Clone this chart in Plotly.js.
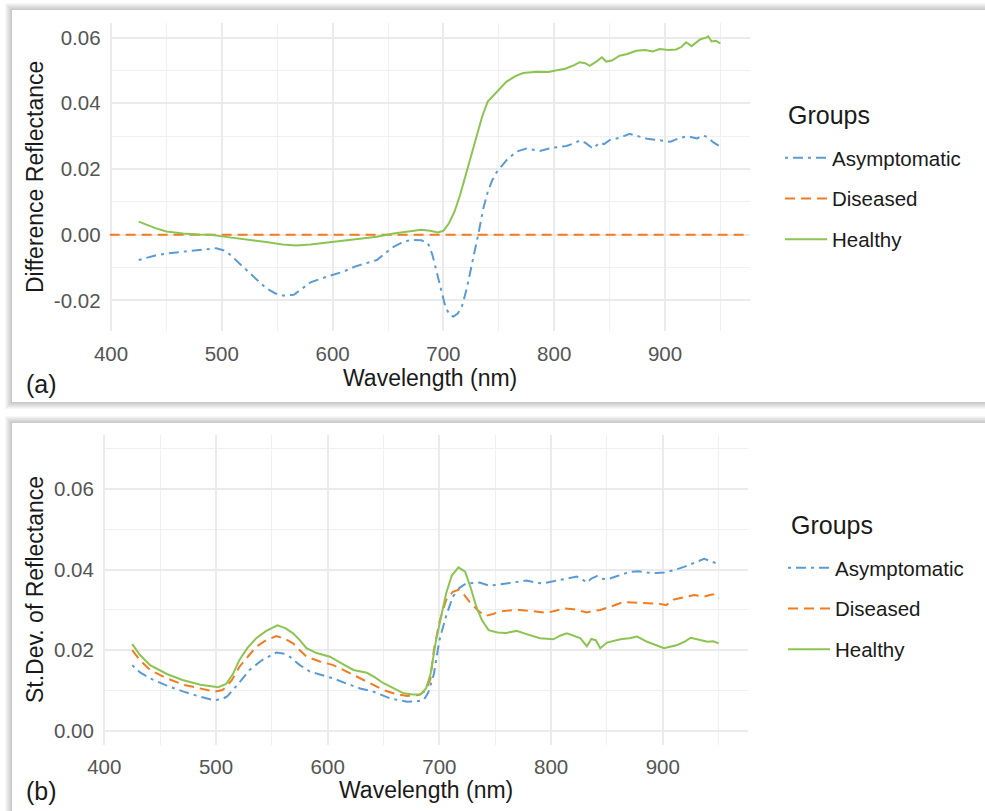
<!DOCTYPE html>
<html>
<head>
<meta charset="utf-8">
<script src="https://cdn.plot.ly/plotly-3.0.1.min.js"></script>
<style>html,body{margin:0;padding:0;background:#fff;}#chart{width:985px;height:811px;}</style>
</head>
<body>
<div id="chart"></div>
<script>
// ---------- DATA ----------
const groups = ["Asymptomatic", "Diseased", "Healthy"];
const legendTitle = "Groups";
const xTicks = [400, 500, 600, 700, 800, 900];
const xMinorTicks = [450, 550, 650, 750, 850, 950];
const yTicksA = [-0.02, 0, 0.02, 0.04, 0.06];
const yMinorA = [-0.01, 0.01, 0.03, 0.05];
const yTicksB = [0, 0.02, 0.04, 0.06];
const yMinorB = [0.01, 0.03, 0.05, 0.07];
const xTitle = "Wavelength (nm)";
const yTitleA = "Difference Reflectance";
const yTitleB = "St.Dev. of Reflectance";
const panelLabels = ["(a)", "(b)"];

// Panel (a): difference of reflectance vs. Diseased
const wlA_Asym = [425,440,450,470,485,495,504,512,522,532,540,548,555,565,572,580,590,600,610,620,631,640,648,655,662,670,680,686,690,694,698,702,706,709,713,717,721,725,729,732,736,740,744,748,757,766,775,787,799,811,818,823,828,835,841,845,850,860,868,876,884,892,898,905,912,920,925,929,934,938,944,950];
const diffA_Asym = [-0.0077,-0.0063,-0.0057,-0.0050,-0.0044,-0.0041,-0.0050,-0.0075,-0.0107,-0.0140,-0.0163,-0.0178,-0.0185,-0.0183,-0.0165,-0.0145,-0.0133,-0.0123,-0.0112,-0.0097,-0.0087,-0.0077,-0.0055,-0.0037,-0.0025,-0.0016,-0.0017,-0.0025,-0.0060,-0.0115,-0.0175,-0.0222,-0.0245,-0.0249,-0.0240,-0.0215,-0.0165,-0.0105,-0.0040,0.0010,0.0080,0.0130,0.0165,0.0190,0.0227,0.0253,0.0262,0.0255,0.0265,0.0270,0.0278,0.0287,0.0280,0.0262,0.0280,0.0276,0.0288,0.0296,0.0307,0.0300,0.0292,0.0289,0.0286,0.0283,0.0293,0.0300,0.0296,0.0293,0.0302,0.0298,0.0280,0.0268];
const wlA_Dis = [398.75, 976.25];
const diffA_Dis = [0, 0];
const wlA_Heal = [425,440,450,465,480,490,500,520,540,555,567,580,600,620,640,655,670,680,688,695,700,705,710,715,720,725,730,735,740,748,757,765,772,784,795,800,810,818,823,828,832,838,843,847,852,859,866,874,882,889,895,903,910,915,919,924,928,932,937,939,942,946,950];
const diffA_Heal = [0.0040,0.0020,0.0010,0.0004,0.0001,0.0000,-0.0005,-0.0013,-0.0022,-0.0030,-0.0033,-0.0030,-0.0022,-0.0015,-0.0006,0.0004,0.0012,0.0015,0.0012,0.0007,0.0012,0.0035,0.0070,0.0120,0.0180,0.0240,0.0300,0.0360,0.0405,0.0435,0.0466,0.0483,0.0492,0.0496,0.0495,0.0499,0.0505,0.0516,0.0525,0.0522,0.0514,0.0527,0.0540,0.0527,0.0530,0.0545,0.0550,0.0560,0.0562,0.0558,0.0565,0.0562,0.0564,0.0572,0.0586,0.0574,0.0585,0.0595,0.0600,0.0604,0.0588,0.0590,0.0582];

// Panel (b): standard deviation of reflectance
const wlB_Asym = [425,432,441,456,471,485,498,505,510,518,530,541,554,560,566,575,584,595,605,617,629,640,656,671,680,686,690,695,700,706,712,718,724,736,745,752,760,770,778,786,793,800,808,815,823,828,832,836,841,845,850,860,871,878,886,894,901,910,919,928,937,944,950];
const sdB_Asym = [0.0163,0.0145,0.0130,0.0112,0.0097,0.0085,0.0076,0.0078,0.0085,0.0110,0.0151,0.0175,0.0194,0.0192,0.0184,0.0163,0.0147,0.0138,0.0130,0.0117,0.0105,0.0098,0.0080,0.0072,0.0073,0.0076,0.0095,0.0140,0.0225,0.0285,0.0333,0.0355,0.0366,0.0368,0.0360,0.0363,0.0366,0.0370,0.0373,0.0368,0.0366,0.0370,0.0374,0.0378,0.0383,0.0376,0.0368,0.0378,0.0384,0.0378,0.0376,0.0385,0.0395,0.0396,0.0393,0.0392,0.0393,0.0399,0.0407,0.0417,0.0427,0.0420,0.0414];
const wlB_Dis = [425,432,441,456,471,486,499,506,514,521,529,536,545,554,562,569,575,581,593,605,617,629,640,650,661,671,682,688,692,695,700,706,712,717,722,727,734,741,748,754,763,772,784,796,804,811,820,826,832,838,844,855,865,877,888,898,903,910,920,928,937,943,947,950];
const sdB_Dis = [0.0200,0.0175,0.0151,0.0130,0.0114,0.0104,0.0097,0.0101,0.0125,0.0159,0.0186,0.0209,0.0225,0.0235,0.0228,0.0217,0.0200,0.0184,0.0172,0.0163,0.0147,0.0130,0.0115,0.0101,0.0091,0.0086,0.0089,0.0100,0.0130,0.0200,0.0270,0.0325,0.0345,0.0350,0.0338,0.0320,0.0300,0.0285,0.0290,0.0296,0.0299,0.0300,0.0297,0.0293,0.0298,0.0304,0.0302,0.0298,0.0294,0.0298,0.0300,0.0310,0.0320,0.0318,0.0316,0.0315,0.0312,0.0326,0.0332,0.0337,0.0333,0.0338,0.0339,0.0329];
const wlB_Heal = [425,432,441,456,470,486,502,509,515,521,528,536,545,555,562,569,575,581,590,602,612,623,635,642,650,660,668,676,683,688,692,697,702,706,711,717,723,728,733,738,744,752,760,769,778,790,802,808,814,820,826,832,836,840,844,850,862,870,877,886,894,901,913,920,925,934,940,945,950];
const sdB_Heal = [0.0215,0.0188,0.0163,0.0141,0.0126,0.0114,0.0108,0.0116,0.0140,0.0176,0.0205,0.0230,0.0248,0.0262,0.0255,0.0242,0.0225,0.0205,0.0193,0.0184,0.0168,0.0151,0.0144,0.0133,0.0118,0.0103,0.0093,0.0090,0.0090,0.0105,0.0140,0.0225,0.0290,0.0341,0.0385,0.0406,0.0395,0.0355,0.0308,0.0275,0.0250,0.0244,0.0243,0.0248,0.0240,0.0230,0.0227,0.0236,0.0242,0.0236,0.0230,0.0210,0.0228,0.0225,0.0205,0.0219,0.0227,0.0230,0.0234,0.0221,0.0212,0.0205,0.0213,0.0222,0.0231,0.0225,0.0221,0.0222,0.0217];

// ---------- STYLE ----------
const W = 985, H = 811;
const px = x => x / W;
const py = y => 1 - y / H;
const colors = {Asymptomatic: "#5b9bd5", Diseased: "#f47b20", Healthy: "#8cc452"};
const dashes = {Asymptomatic: "3px,5px,10px,5px", Diseased: "10px,6px", Healthy: "solid"};
const FONT = "Liberation Sans, Arial, Helvetica, sans-serif";
const GRID = "#ebebeb";
const GRID_MINOR = "#f0f0f0";

function tr(name, x, y, xa, ya, leg) {
  return {
    type: "scatter", mode: "lines", name: name, x: x, y: y,
    xaxis: xa, yaxis: ya, legend: leg, legendgroup: leg + name,
    line: {color: colors[name], width: 2, dash: dashes[name]},
    hoverinfo: "skip"
  };
}

const data = [
  tr("Asymptomatic", wlA_Asym, diffA_Asym, "x", "y", "legend"),
  tr("Diseased", wlA_Dis, diffA_Dis, "x", "y", "legend"),
  tr("Healthy", wlA_Heal, diffA_Heal, "x", "y", "legend"),
  tr("Asymptomatic", wlB_Asym, sdB_Asym, "x2", "y2", "legend2"),
  tr("Diseased", wlB_Dis, sdB_Dis, "x2", "y2", "legend2"),
  tr("Healthy", wlB_Heal, sdB_Heal, "x2", "y2", "legend2")
];

function xaxis(domain, anchor) {
  return {
    domain: domain, anchor: anchor, range: [398.75, 976.25],
    tickmode: "array", tickvals: xTicks, ticktext: xTicks.map(String),
    showgrid: true, gridcolor: GRID, gridwidth: 2,
    minor: {tickmode: "array", tickvals: xMinorTicks, showgrid: true, gridcolor: GRID_MINOR, gridwidth: 1, ticks: ""},
    zeroline: false, showline: false, ticks: "",
    ticklabelstandoff: 8,
    tickfont: {family: FONT, size: 20.5, color: "#555555"}
  };
}
function yaxis(domain, anchor, range, tv, mv) {
  return {
    domain: domain, anchor: anchor, range: range,
    tickmode: "array", tickvals: tv, ticktext: tv.map(v => v.toFixed(2)),
    showgrid: true, gridcolor: GRID, gridwidth: 2,
    minor: {tickmode: "array", tickvals: mv, showgrid: true, gridcolor: GRID_MINOR, gridwidth: 1, ticks: ""},
    zeroline: false, showline: false, ticks: "",
    ticklabelstandoff: 8,
    tickfont: {family: FONT, size: 20.5, color: "#555555"}
  };
}

// card + soft shadow shapes
const shapes = [];
function card(x0, y0, x1, y1) {
  for (let k = 7; k >= 1; k--) {
    shapes.push({type: "rect", xref: "paper", yref: "paper", layer: "below",
      x0: px(x0 - k), x1: px(x1 + k), y0: py(y1 + k), y1: py(y0 - k),
      line: {width: 0}, fillcolor: "rgba(0,0,0,0.03)"});
  }
  shapes.push({type: "rect", xref: "paper", yref: "paper", layer: "below",
    x0: px(x0), x1: px(x1), y0: py(y1), y1: py(y0),
    line: {width: 0}, fillcolor: "#ffffff"});
}
card(12, 10, 995, 402);
card(12, 423, 995, 830);

const ann = (text, x, y, size, opts) => Object.assign({
  text: text, xref: "paper", yref: "paper", x: px(x), y: py(y),
  showarrow: false, font: {family: FONT, size: size, color: "#1a1a1a"},
  xanchor: "center", yanchor: "middle"
}, opts || {});

const legendBase = {
  xanchor: "left", yanchor: "top", bgcolor: "rgba(0,0,0,0)",
  tracegroupgap: 11, itemwidth: 42,
  font: {family: FONT, size: 20.5, color: "#1a1a1a"}
};

const layout = {
  width: W, height: H,
  margin: {l: 0, r: 0, t: 0, b: 0},
  paper_bgcolor: "#ffffff", plot_bgcolor: "rgba(0,0,0,0)",
  showlegend: true,
  xaxis: xaxis([px(109.6), px(749.5)], "y"),
  yaxis: yaxis([py(331), py(22.8)], "x", [-0.0293, 0.0645], yTicksA, yMinorA),
  xaxis2: xaxis([px(102.9), px(748)], "y2"),
  yaxis2: yaxis([py(744.8), py(434.9)], "x2", [-0.0035, 0.0735], yTicksB, yMinorB),
  legend: Object.assign({x: px(780), y: py(138)}, legendBase),
  legend2: Object.assign({x: px(783), y: py(548)}, legendBase),
  shapes: shapes,
  annotations: [
    ann(legendTitle, 785.5, 115, 25, {xanchor: "left"}),
    ann(legendTitle, 788.5, 525, 25, {xanchor: "left"}),
    ann(xTitle, 429.5, 378, 23),
    ann(xTitle, 425.5, 790, 23),
    ann(yTitleA, 35, 177, 23, {textangle: -90}),
    ann(yTitleB, 35, 590, 23, {textangle: -90}),
    ann(panelLabels[0], 24, 384, 25, {xanchor: "left"}),
    ann(panelLabels[1], 24, 791, 25, {xanchor: "left"})
  ]
};

Plotly.newPlot("chart", data, layout, {displayModeBar: false, staticPlot: true});
</script>
</body>
</html>
